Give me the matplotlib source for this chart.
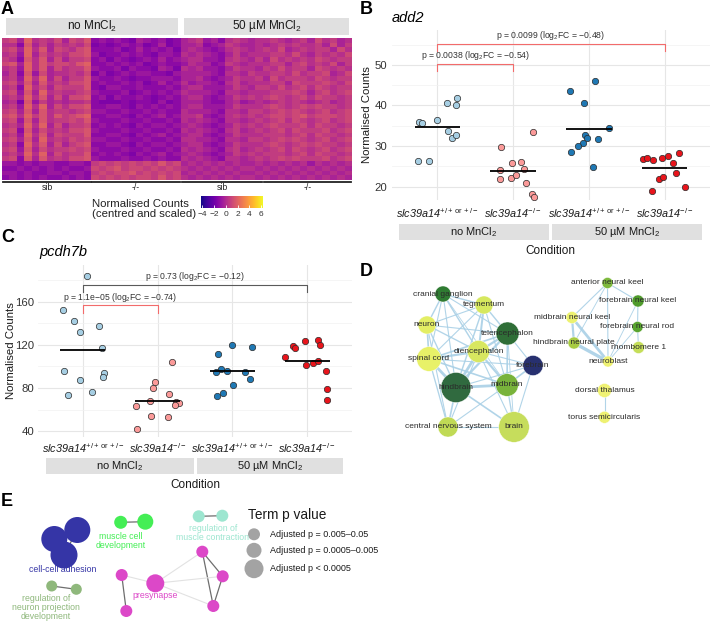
import numpy as np
import matplotlib
matplotlib.use('Agg')
import matplotlib.pyplot as plt
from matplotlib.patches import Circle, Rectangle
from matplotlib import font_manager as fm

plt.rcParams['font.family'] = ['Liberation Sans', 'DejaVu Sans']


def _has_italic(fam):
    return any(f.name == fam and f.style in ('italic', 'oblique') for f in fm.fontManager.ttflist)


IT_FAM = next((f for f in ['Liberation Sans', 'Arimo', 'Roboto', 'Lato', 'Open Sans',
                           'Noto Sans', 'DejaVu Sans'] if _has_italic(f)), 'DejaVu Sans')
plt.rcParams['mathtext.fontset'] = 'custom'
plt.rcParams['mathtext.rm'] = 'Liberation Sans'
plt.rcParams['mathtext.it'] = IT_FAM + ':italic'
plt.rcParams['mathtext.bf'] = 'Liberation Sans:bold'

# ---------------- DATA ----------------
# Panel A heatmap: rows = genes (bands), columns = samples; digit codes
heat_rows = [
    "674956574768 232321432312 45634256545 565456475645",
    "552846465657 121232312412 44523465445 456565564746",
    "674958476578 222312423231 45432356545 657456566475",
    "563947565778 312232321332 54543246455 566575465657",
    "652858474667 231321232423 45533256546 475656576566",
    "784958677689 223232312322 35442365455 566467565746",
    "563958475668 322313221431 54533246554 657566476565",
    "462837455657 131232332213 44443255465 566575667457",
    "563959474668 322321223332 44532346556 475666576566",
    "674848565778 232232312423 53443256455 566476667657",
    "562957476668 213322322232 45533346546 657567576566",
    "673849565567 322231232323 54443255455 566676467567",
    "564958474778 231322321232 45532346565 676567576656",
    "451836454556 211121221312 44432245345 456565456456",
    "563959475778 223321323232 45533346555 676567676656",
    "674848566567 332232232322 54443255466 567676567567",
    "785968586789 223321323423 55632356565 677678677767",
    "673848566768 322232232232 54543255456 567576567567",
    "564959474667 232321323323 45432346565 676667576656",
    "672847565778 322232232232 54543256456 567576667567",
    "563958476668 223321323423 45532346555 666567576656",
    "674849565767 332232232232 55443255466 567676567567",
    "562958474678 223321323323 45532346555 676567676656",
    "673847566767 322232232232 54543256456 567576567567",
    "564959475668 232321323423 45432346565 666567576656",
    "672848565778 322232232322 54543255456 567676667567",
    "332323322332 676767676867 45454545445 454545354545",
    "223232323223 767867767676 54545454554 545454545454",
    "332322332332 676778676767 45454545445 454545454545",
    "232323223232 767676776867 54545454554 545454545454",
]
heat_code_step = 0.45
heat_code_zero = 4.5
heat_groups = ["sib", "-/-", "sib", "-/-"]
heat_conditions = ["no MnCl$_2$", "50 µM MnCl$_2$"]
cbar_ticks = [-4, -2, 0, 2, 4, 6]

# Panels B/C
conditions = ["no MnCl$_2$", "50 µM MnCl$_2$"]
genotype_labels = [r"slc39a14$^{+/+\,\mathrm{or}\,+/-}$", r"slc39a14$^{-/-}$",
                   r"slc39a14$^{+/+\,\mathrm{or}\,+/-}$", r"slc39a14$^{-/-}$"]

add2_wt_no = [26.3, 26.3, 36.0, 35.8, 36.3, 40.5, 40.0, 41.9, 33.6, 32.0, 32.7]
add2_mut_no = [29.7, 33.4, 24.1, 25.8, 26.0, 24.3, 21.8, 22.0, 22.8, 21.0, 18.3, 17.5]
add2_wt_mn = [43.6, 46.1, 40.6, 34.5, 32.6, 32.1, 30.8, 30.1, 31.7, 28.5, 24.8]
add2_mut_mn = [26.8, 27.0, 26.6, 27.1, 27.6, 28.4, 25.7, 23.4, 21.9, 22.4, 20.0, 18.8]
add2_jit_wt_no = [-0.26, -0.11, -0.24, -0.21, -0.01, 0.12, 0.24, 0.26, 0.14, 0.19, 0.25]
add2_jit_mut_no = [-0.16, 0.26, -0.17, -0.01, 0.10, 0.14, -0.18, -0.03, 0.04, 0.17, 0.25, 0.27]
add2_jit_wt_mn = [-0.25, 0.08, -0.06, 0.26, -0.05, -0.02, -0.08, -0.15, 0.12, -0.24, 0.05]
add2_jit_mut_mn = [-0.28, -0.23, -0.15, -0.04, 0.04, 0.19, 0.11, 0.15, -0.07, -0.02, 0.27, -0.16]
add2_tests = [(1, 2, 48.6, 50.2, "p = 0.0038 (log$_2$FC = $-$0.54)", True),
              (1, 4, 53.5, 55.2, "p = 0.0099 (log$_2$FC = $-$0.48)", True)]

pcdh_wt_no = [184.2, 151.9, 141.7, 132.4, 137.4, 117.5, 95.8, 94.3, 90.5, 87.4, 73.2, 76.6]
pcdh_mut_no = [104.0, 85.2, 80.0, 74.2, 67.9, 63.6, 67.0, 66.0, 64.8, 53.9, 53.0, 41.8]
pcdh_wt_mn = [111.3, 119.7, 118.4, 98.0, 95.5, 95.2, 95.2, 88.7, 82.8, 75.0, 72.9]
pcdh_mut_mn = [109.1, 119.1, 116.9, 123.7, 125.0, 119.7, 101.4, 102.9, 104.8, 96.1, 78.8, 68.8]
pcdh_jit_wt_no = [0.05, -0.27, -0.12, -0.04, 0.21, 0.25, -0.25, 0.28, 0.27, -0.04, -0.20, 0.12]
pcdh_jit_mut_no = [0.19, -0.04, -0.06, 0.15, -0.10, -0.29, 0.24, 0.29, 0.23, -0.09, 0.14, -0.27]
pcdh_jit_wt_mn = [-0.19, -0.01, 0.26, -0.15, -0.07, -0.22, 0.17, 0.23, 0.01, -0.12, -0.20]
pcdh_jit_mut_mn = [-0.30, -0.19, -0.16, -0.03, 0.15, 0.17, -0.02, 0.08, 0.15, 0.25, 0.27, 0.27]
pcdh_tests = [(1, 2, 149.1, 156.6, "p = 1.1e$-$05 (log$_2$FC = $-$0.74)", True),
              (1, 4, 169.0, 175.8, "p = 0.73 (log$_2$FC = $-$0.12)", False)]

# Panel D network (ZFA terms)
d_nodes = ["cranial ganglion", "tegmentum", "neuron", "telencephalon", "diencephalon",
           "spinal cord", "forebrain", "hindbrain", "midbrain", "central nervous system", "brain",
           "anterior neural keel", "forebrain neural keel", "midbrain neural keel",
           "forebrain neural rod", "hindbrain neural plate", "rhombomere 1", "neuroblast",
           "dorsal thalamus", "torus semicircularis"]
d_size = [8, 9, 9, 11.5, 11, 12.3, 10, 15, 11.3, 10, 15.3,
          5.5, 6, 6, 5.5, 6, 6, 5.5, 7, 6]
d_edges = [
    ("cranial ganglion", "tegmentum", 1.3), ("cranial ganglion", "neuron", 1.3),
    ("cranial ganglion", "telencephalon", 1.0), ("cranial ganglion", "diencephalon", 1.3),
    ("cranial ganglion", "spinal cord", 1.0), ("cranial ganglion", "hindbrain", 1.0),
    ("cranial ganglion", "midbrain", 0.7),
    ("tegmentum", "neuron", 1.0), ("tegmentum", "telencephalon", 1.3),
    ("tegmentum", "diencephalon", 1.8), ("tegmentum", "spinal cord", 1.0),
    ("tegmentum", "hindbrain", 1.3), ("tegmentum", "midbrain", 1.0),
    ("neuron", "telencephalon", 1.0), ("neuron", "diencephalon", 1.2),
    ("neuron", "spinal cord", 1.5), ("neuron", "hindbrain", 1.2),
    ("neuron", "central nervous system", 1.0),
    ("telencephalon", "diencephalon", 2.0), ("telencephalon", "spinal cord", 1.5),
    ("telencephalon", "forebrain", 1.0), ("telencephalon", "hindbrain", 2.0),
    ("telencephalon", "midbrain", 1.5), ("telencephalon", "brain", 0.8),
    ("diencephalon", "spinal cord", 2.0), ("diencephalon", "forebrain", 1.0),
    ("diencephalon", "hindbrain", 2.5), ("diencephalon", "midbrain", 2.0),
    ("diencephalon", "central nervous system", 1.0), ("diencephalon", "brain", 1.0),
    ("spinal cord", "hindbrain", 2.5), ("spinal cord", "midbrain", 1.5),
    ("spinal cord", "central nervous system", 1.2), ("spinal cord", "forebrain", 1.0),
    ("forebrain", "midbrain", 1.5), ("forebrain", "hindbrain", 1.0), ("forebrain", "brain", 1.0),
    ("hindbrain", "midbrain", 2.5), ("hindbrain", "central nervous system", 1.5),
    ("hindbrain", "brain", 1.5), ("midbrain", "brain", 1.2),
    ("midbrain", "central nervous system", 1.0), ("central nervous system", "brain", 1.0),
    ("anterior neural keel", "forebrain neural keel", 1.0),
    ("anterior neural keel", "midbrain neural keel", 1.0),
    ("anterior neural keel", "neuroblast", 1.0),
    ("anterior neural keel", "hindbrain neural plate", 0.8),
    ("forebrain neural keel", "forebrain neural rod", 1.0),
    ("forebrain neural keel", "neuroblast", 0.8),
    ("forebrain neural rod", "rhombomere 1", 1.0),
    ("forebrain neural rod", "neuroblast", 0.8),
    ("midbrain neural keel", "hindbrain neural plate", 2.0),
    ("midbrain neural keel", "neuroblast", 2.5),
    ("hindbrain neural plate", "neuroblast", 3.0),
    ("dorsal thalamus", "torus semicircularis", 1.0),
]

# Panel E network (GO terms)
e_clusters = ["cell-cell adhesion", "muscle cell\ndevelopment",
              "regulation of\nmuscle contraction",
              "regulation of\nneuron projection\ndevelopment", "presynapse"]
e_node_cluster = [0, 0, 0, 1, 1, 2, 2, 3, 3, 4, 4, 4, 4, 4, 4]
e_node_size = [13, 13, 13.5, 6.5, 8, 6, 6, 5.5, 5.5, 6, 9, 6, 6, 6, 6]
e_edges = [(0, 1, 1), (0, 2, 1), (1, 2, 1), (3, 4, 1), (5, 6, 1), (7, 8, 1),
           (9, 11, 1), (12, 13, 1), (12, 14, 1), (13, 14, 1),
           (9, 10, 0), (10, 12, 0), (10, 13, 0), (10, 14, 0)]
e_legend = ["Adjusted p = 0.005\u20130.05", "Adjusted p = 0.0005\u20130.005",
            "Adjusted p < 0.0005"]
e_legend_size = [6, 7.5, 9.5]

# ---------------- STYLE / LAYOUT ----------------
W, H = 711, 624
fig = plt.figure(figsize=(W / 100, H / 100), dpi=100)
fig.patch.set_facecolor('white')


def px_axes(x0, y0, x1, y1, **kw):
    return fig.add_axes([x0 / W, 1 - y1 / H, (x1 - x0) / W, (y1 - y0) / H], **kw)


def ftext(x, y, s, **kw):
    return fig.text(x / W, 1 - y / H, s, **kw)


def fstrip(x0, y0, x1, y1, s, fs=8):
    fig.add_artist(Rectangle((x0 / W, 1 - y1 / H), (x1 - x0) / W, (y1 - y0) / H,
                             transform=fig.transFigure, facecolor='#e0e0e0',
                             edgecolor='none'))
    ftext((x0 + x1) / 2, (y0 + y1) / 2, s, ha='center', va='center', fontsize=fs,
          color='#1a1a1a')


def panel_label(x, y, s):
    ftext(x, y, s, ha='left', va='center', fontsize=13, fontweight='bold')


TXT = '#333333'

# ---------------- Panel A ----------------
panel_label(1, 9, 'A')
M = np.array([[int(c) for c in r.replace(' ', '')] for r in heat_rows], dtype=float)
M = (M - heat_code_zero) * heat_code_step
axA = px_axes(2, 38, 352, 180)
im = axA.imshow(M, aspect='auto', cmap='plasma', vmin=-4.2, vmax=6.3,
                interpolation='nearest')
axA.axis('off')
fstrip(6, 18, 178, 35, heat_conditions[0], fs=8.5)
fstrip(184, 18, 349, 35, heat_conditions[1], fs=8.5)
for (x0, x1), lab in zip([(3, 91), (92, 180), (182, 262), (264, 351)], heat_groups):
    fig.add_artist(plt.Line2D([x0 / W, x1 / W], [1 - 181.5 / H] * 2,
                              transform=fig.transFigure, color='#222222', lw=1.3))
    ftext((x0 + x1) / 2, 188, lab, ha='center', va='center', fontsize=6.2, color='#222222')
cax = px_axes(201, 196, 263, 208)
cb = fig.colorbar(im, cax=cax, orientation='horizontal', ticks=cbar_ticks)
cb.outline.set_visible(False)
cax.tick_params(length=2.5, width=0.6, color='white', direction='in', labelsize=6,
                pad=2, labelcolor=TXT)
cax.set_xticklabels(['\u22124', '\u22122', '0', '2', '4', '6'])
ftext(92, 209, "Normalised Counts\n(centred and scaled)", ha='left', va='center',
      fontsize=8.2, linespacing=1.05, color='#222222')

# ---------------- Panels B / C ----------------
group_colors = ['#a6cee3', '#fb9a99', '#1f78b4', '#e8141b']


def dot_panel(box, values, jitters, ylim, ymajor, yminor, tests, pad):
    ax = px_axes(*box)
    for i, (v, j, c) in enumerate(zip(values, jitters, group_colors)):
        x = i + 1 + np.array(j)
        ax.scatter(x, v, s=21, c=c, edgecolors='#2a2a2a', linewidths=0.5, zorder=3)
        m = np.mean(v)
        ax.plot([i + 1 - 0.3, i + 1 + 0.3], [m, m], color='black', lw=1.3, zorder=4,
                solid_capstyle='butt')
    for x1, x2, ylo, yhi, lab, sig in tests:
        col = '#f26b6b' if sig else '#5a5a5a'
        ax.plot([x1, x1, x2, x2], [ylo, yhi, yhi, ylo], color=col, lw=0.8, zorder=2)
        ax.annotate(lab, ((x1 + x2) / 2, yhi), xytext=(0, 1.2), textcoords='offset points',
                    ha='center', va='bottom', fontsize=6.2, color=TXT)
    ax.set_xlim(0.4, 4.6)
    ax.set_ylim(*ylim)
    ax.set_yticks(ymajor)
    ax.set_yticks(yminor, minor=True)
    ax.set_xticks([1, 2, 3, 4])
    ax.set_xticklabels(genotype_labels, fontsize=7.8, color='#1a1a1a',
                       fontstyle='italic', family=[IT_FAM, 'DejaVu Sans'])
    ax.tick_params(axis='y', labelsize=8.2, labelcolor=TXT, length=0, pad=pad[0])
    ax.tick_params(axis='x', length=0, pad=pad[1])
    ax.tick_params(which='minor', length=0)
    ax.grid(which='major', color='#e6e6e6', lw=0.8)
    ax.grid(which='minor', color='#f1f1f1', lw=0.5)
    ax.set_axisbelow(True)
    for s in ax.spines.values():
        s.set_visible(False)
    return ax


panel_label(360, 9, 'B')
ftext(392, 18, 'add2', ha='left', va='center', fontsize=10.5, style='italic',
      family=[IT_FAM, 'DejaVu Sans'])
dot_panel((392, 30, 710, 200), [add2_wt_no, add2_mut_no, add2_wt_mn, add2_mut_mn],
          [add2_jit_wt_no, add2_jit_mut_no, add2_jit_wt_mn, add2_jit_mut_mn],
          (16.7, 58.6), [20, 30, 40, 50], [25, 35, 45, 55], add2_tests, (3.5, 4.5))
ftext(367, 115, 'Normalised Counts', rotation=90, ha='center', va='center', fontsize=8.2,
      color='#1a1a1a')
fstrip(399, 224, 549, 240, conditions[0])
fstrip(552, 224, 702, 240, conditions[1])
ftext(550, 251, 'Condition', ha='center', va='center', fontsize=8.5, color='#1a1a1a')

panel_label(1, 238, 'C')
ftext(39, 252, 'pcdh7b', ha='left', va='center', fontsize=10.5, style='italic',
      family=[IT_FAM, 'DejaVu Sans'])
dot_panel((38, 265, 352, 437), [pcdh_wt_no, pcdh_mut_no, pcdh_wt_mn, pcdh_mut_mn],
          [pcdh_jit_wt_no, pcdh_jit_mut_no, pcdh_jit_wt_mn, pcdh_jit_mut_mn],
          (34.7, 194.0), [40, 80, 120, 160], [60, 100, 140, 180], pcdh_tests, (2.8, 3.0))
ftext(11, 351, 'Normalised Counts', rotation=90, ha='center', va='center', fontsize=8.2,
      color='#1a1a1a')
fstrip(46, 458, 194, 474, conditions[0])
fstrip(197, 458, 343, 474, conditions[1])
ftext(195, 485, 'Condition', ha='center', va='center', fontsize=8.5, color='#1a1a1a')

# ---------------- Panel D ----------------
panel_label(360, 272, 'D')
d_layout = {
    "cranial ganglion": (443, 294), "tegmentum": (484, 305), "neuron": (427, 325),
    "telencephalon": (507.5, 333.5), "diencephalon": (478.5, 351.5), "spinal cord": (429, 359),
    "forebrain": (533, 365.5), "hindbrain": (456, 387.5), "midbrain": (507, 385),
    "central nervous system": (448, 427), "brain": (514, 427),
    "anterior neural keel": (607.5, 283), "forebrain neural keel": (638, 301),
    "midbrain neural keel": (572, 317.5), "forebrain neural rod": (637.5, 327),
    "hindbrain neural plate": (574, 343), "rhombomere 1": (638.5, 347.5),
    "neuroblast": (608, 361.5), "dorsal thalamus": (604.5, 390.5),
    "torus semicircularis": (604.5, 417.3),
}
d_colors = {
    "cranial ganglion": '#2f7b32', "tegmentum": '#d6e85e', "neuron": '#e3ee64',
    "telencephalon": '#2f6e37', "diencephalon": '#d8e760', "spinal cord": '#e8f168',
    "forebrain": '#27306f', "hindbrain": '#306a3f', "midbrain": '#78b33b',
    "central nervous system": '#c0da55', "brain": '#c6dd5c',
    "anterior neural keel": '#7db93c', "forebrain neural keel": '#4f9b2b',
    "midbrain neural keel": '#edf270', "forebrain neural rod": '#59a42f',
    "hindbrain neural plate": '#a8cc42', "rhombomere 1": '#c5de58',
    "neuroblast": '#eef172', "dorsal thalamus": '#f0f274', "torus semicircularis": '#eef172',
}
axD = px_axes(355, 270, 711, 445)
axD.set_xlim(355, 711)
axD.set_ylim(445, 270)
axD.axis('off')
for a, b, w in d_edges:
    (x1, y1), (x2, y2) = d_layout[a], d_layout[b]
    axD.plot([x1, x2], [y1, y2], color='#a9d0e6', lw=w * 0.8, alpha=0.9, zorder=1)
for n, r in zip(d_nodes, d_size):
    x, y = d_layout[n]
    axD.add_patch(Circle((x, y), r, facecolor=d_colors[n], edgecolor='white', lw=0.3,
                         zorder=2))
    axD.text(x, y, n, ha='center', va='center', fontsize=6, color='#2a2a2a', zorder=3)

# ---------------- Panel E ----------------
panel_label(1, 502, 'E')
e_colors = ['#3535a6', '#44ee55', '#9de6d0', '#8fb87c', '#dc48c8']
e_layout = [(54.3, 539), (77.3, 530), (64, 555), (120.7, 522.3), (145.3, 521.7),
            (198.7, 516.3), (222.3, 515.7), (51.7, 586), (76.3, 589.3),
            (121.7, 575), (155.3, 583.3), (126.3, 611), (202.3, 551.7),
            (222.7, 576.3), (213.3, 606)]
e_label_pos = [(63, 570), (121, 541), (213, 533), (46, 607.5), (154.7, 595.7)]
axE = px_axes(0, 505, 360, 624)
axE.set_xlim(0, 360)
axE.set_ylim(624, 505)
axE.axis('off')
for a, b, strong in e_edges:
    (x1, y1), (x2, y2) = e_layout[a], e_layout[b]
    axE.plot([x1, x2], [y1, y2], color='#6e6e6e' if strong else '#e2e2e2',
             lw=0.9 if strong else 0.8, zorder=1)
for (x, y), r, c in zip(e_layout, e_node_size, e_node_cluster):
    axE.add_patch(Circle((x, y), r, facecolor=e_colors[c], edgecolor='none', zorder=2))
for (x, y), lab, c in zip(e_label_pos, e_clusters, e_colors):
    axE.text(x, y, lab, ha='center', va='center', fontsize=6.3, color=c,
             linespacing=1.0, zorder=3)
axE.text(248, 515, 'Term p value', ha='left', va='center', fontsize=9.8, color='#1a1a1a')
for (yy, lab, r) in zip([534.3, 550.3, 568.7], e_legend, e_legend_size):
    axE.add_patch(Circle((254, yy), r, facecolor='#a3a3a3', edgecolor='none'))
    axE.text(269.5, yy, lab, ha='left', va='center', fontsize=6.5, color='#1a1a1a')

fig.savefig('out.png', dpi=100, facecolor='white')
